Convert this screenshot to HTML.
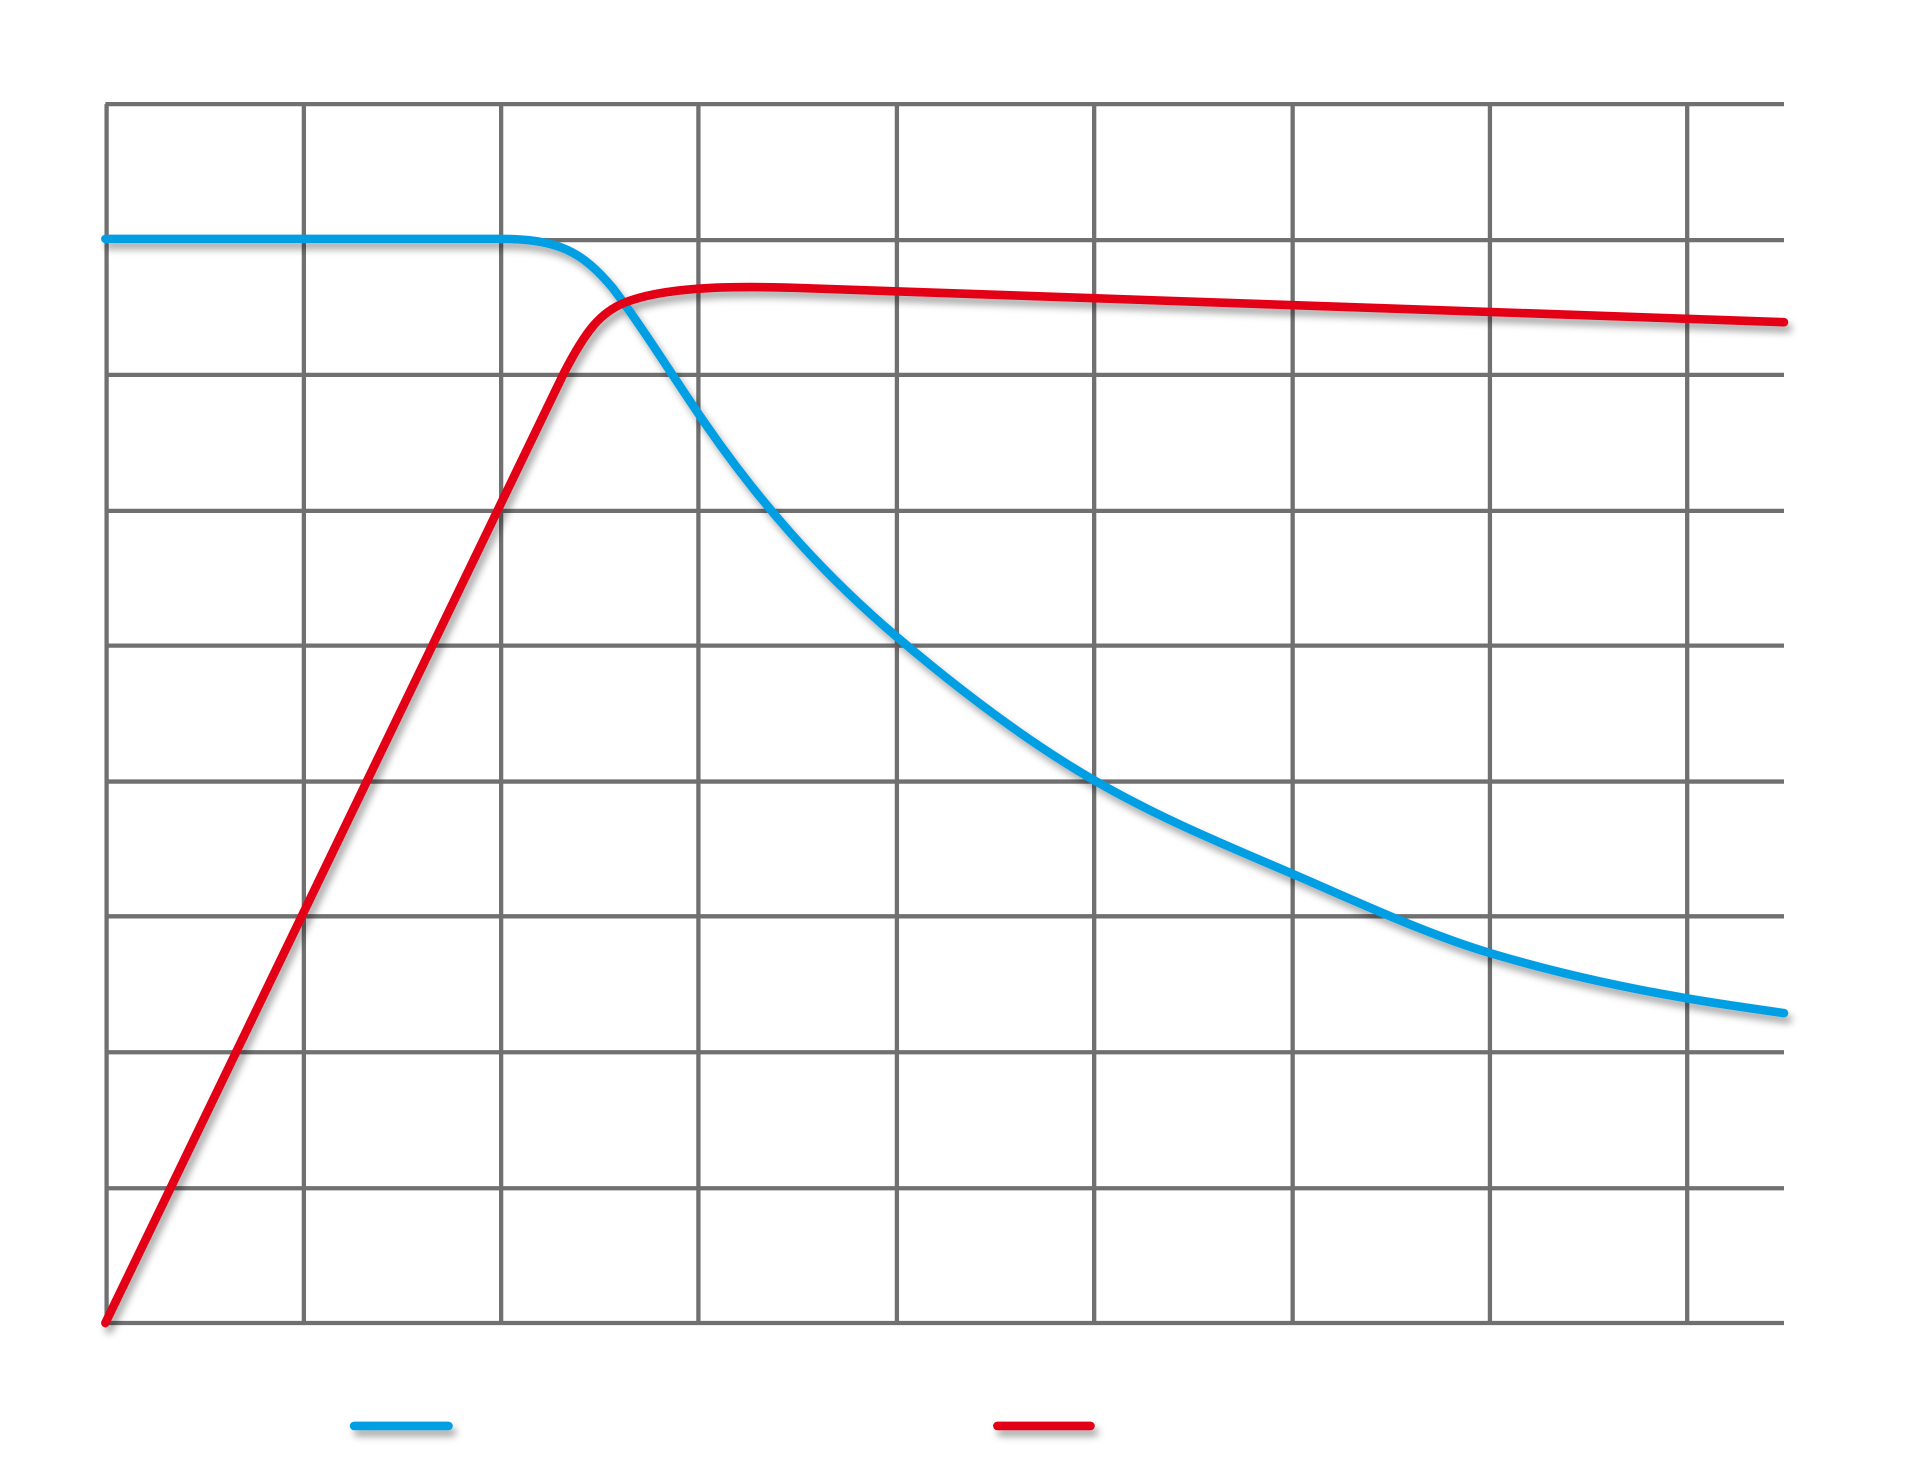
<!DOCTYPE html>
<html><head><meta charset="utf-8"><style>html,body{margin:0;padding:0;background:#fff;width:1920px;height:1459px;overflow:hidden}</style></head>
<body>
<svg width="1920" height="1459" viewBox="0 0 1567 1191" preserveAspectRatio="none" xmlns="http://www.w3.org/2000/svg">
<defs><filter id="s" x="-10%" y="-10%" width="120%" height="130%"><feDropShadow dx="3" dy="5" stdDeviation="3" flood-color="#000" flood-opacity="0.35"/></filter></defs>
<g stroke="#707070" stroke-width="3.5" fill="none">
<path d="M86,85H1456M86,196H1456M86,306H1456M86,417H1456M86,527H1456M86,638H1456M86,748H1456M86,859H1456M86,970H1456M86,1080H1456"/>
<path d="M87,85V1080M248,85V1080M409,85V1080M570,85V1080M732,85V1080M893,85V1080M1055,85V1080M1216,85V1080M1377,85V1080"/>
</g>
<g fill="none" stroke-width="7" stroke-linecap="round" filter="url(#s)">
<path stroke="#009fe3" d="M86,195 H408 C455,195 475,205 500,235 C525,268 550,308.7 575,345 C627.3,420.9 679.7,475.5 732,520 C785.7,565.6 839.3,605.9 893,637 C946.7,668.1 1000.3,689.9 1054,713 C1108,736.2 1162,761.8 1216,778 C1269.7,794.1 1323.3,805.9 1377,815 C1403.3,819.5 1429.7,823.3 1456,827"/>
<path stroke="#e30613" d="M86,1080 L460,305 C478,270 490,255 510,247 C540,235 590,233 650,235 L1456,263"/>
<path stroke="#009fe3" d="M289,1164H366"/>
<path stroke="#e30613" d="M814,1164H890"/>
</g>
</svg>
</body></html>
